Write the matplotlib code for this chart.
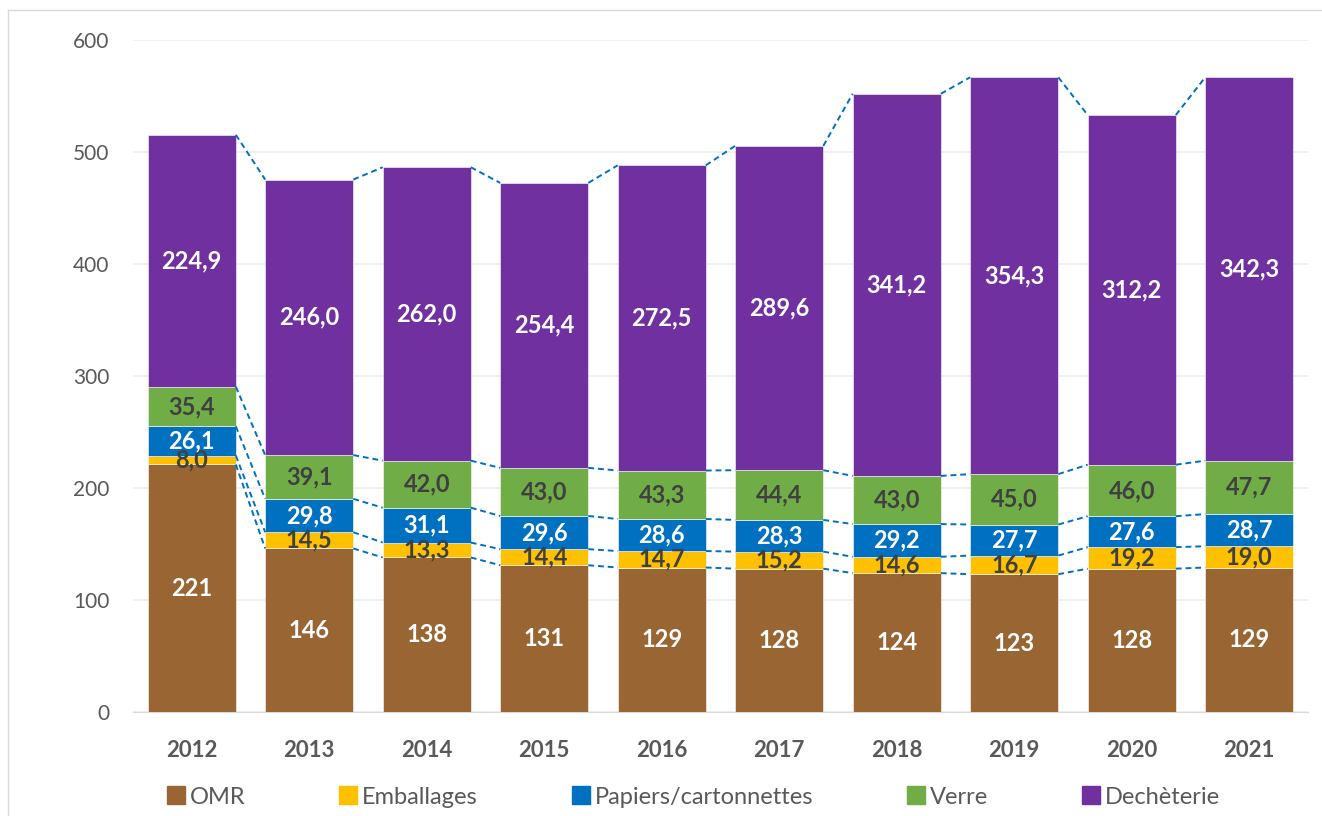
import matplotlib
matplotlib.use("Agg")
import matplotlib.pyplot as plt
from matplotlib.lines import Line2D
import numpy as np

plt.rcParams['font.family'] = ['Lato', 'DejaVu Sans']

years = ["2012", "2013", "2014", "2015", "2016", "2017", "2018", "2019", "2020", "2021"]
series_names = ["OMR", "Emballages", "Papiers/cartonnettes", "Verre", "Dechèterie"]
omr = [221, 146, 138, 131, 129, 128, 124, 123, 128, 129]
emballages = [8.0, 14.5, 13.3, 14.4, 14.7, 15.2, 14.6, 16.7, 19.2, 19.0]
papiers = [26.1, 29.8, 31.1, 29.6, 28.6, 28.3, 29.2, 27.7, 27.6, 28.7]
verre = [35.4, 39.1, 42.0, 43.0, 43.3, 44.4, 43.0, 45.0, 46.0, 47.7]
decheterie = [224.9, 246.0, 262.0, 254.4, 272.5, 289.6, 341.2, 354.3, 312.2, 342.3]

colors = ["#996633", "#FFC000", "#0070C0", "#70AD47", "#7030A0"]
label_colors = ["white", "#404040", "white", "#404040", "white"]
data = [omr, emballages, papiers, verre, decheterie]

fig = plt.figure(figsize=(13.22, 8.16), dpi=100)
ax = fig.add_axes([133/1322, 1-712/816, (1308-133)/1322, (712-40)/816])

x = np.arange(len(years))
width = 0.75
bottom = np.zeros(len(years))
tops = []
for i, (vals, c) in enumerate(zip(data, colors)):
    vals = np.array(vals, dtype=float)
    ax.bar(x, vals, width, bottom=bottom, color=c, edgecolor="white", linewidth=0.4,
           label=series_names[i], zorder=3)
    for xi, b, v in zip(x, bottom, vals):
        txt = f"{int(round(v))}" if i == 0 else f"{v:.1f}".replace(".", ",")
        ax.text(xi, b + v / 2, txt, ha="center", va="center", color=label_colors[i],
                fontsize=17, fontweight="bold", zorder=5)
    bottom = bottom + vals
    tops.append(bottom.copy())

# series lines
for t in tops:
    for j in range(len(years) - 1):
        ax.plot([x[j] + width / 2, x[j + 1] - width / 2], [t[j], t[j + 1]],
                color="#0070C0", linestyle=(0, (3, 2)), linewidth=1.4, zorder=4)

ax.set_xlim(-0.5, len(years) - 0.5)
ax.set_ylim(0, 600)
ax.set_yticks(range(0, 601, 100))
ax.set_xticks(x)
ax.set_xticklabels(years, fontsize=16, fontweight="bold", color="#595959")
ax.tick_params(axis="y", labelsize=15, labelcolor="#595959", length=0, pad=17)
ax.tick_params(axis="x", length=0, pad=20)
ax.grid(axis="y", color="#EDEDED", linewidth=1.2, zorder=0)
for s in ["top", "right", "left"]:
    ax.spines[s].set_visible(False)
ax.spines["bottom"].set_color("#D9D9D9")

handles = [Line2D([0], [0], marker="s", linestyle="none", markersize=13,
                  markerfacecolor=c, markeredgecolor=c) for c in colors]
fig.legend(handles, series_names, loc="center", bbox_to_anchor=(0.524, 1 - 797/816),
           ncol=5, frameon=False, fontsize=17, labelcolor="#595959",
           handletextpad=0.15, columnspacing=3.9, handlelength=0.9)

# partial frame border (left & top)
fig.add_artist(Line2D([8/1322, 8/1322], [0, 1 - 10/816], transform=fig.transFigure,
                      color="#D9D9D9", linewidth=1))
fig.add_artist(Line2D([8/1322, 1], [1 - 10/816, 1 - 10/816], transform=fig.transFigure,
                      color="#D9D9D9", linewidth=1))

fig.savefig("out.png", dpi=100)
